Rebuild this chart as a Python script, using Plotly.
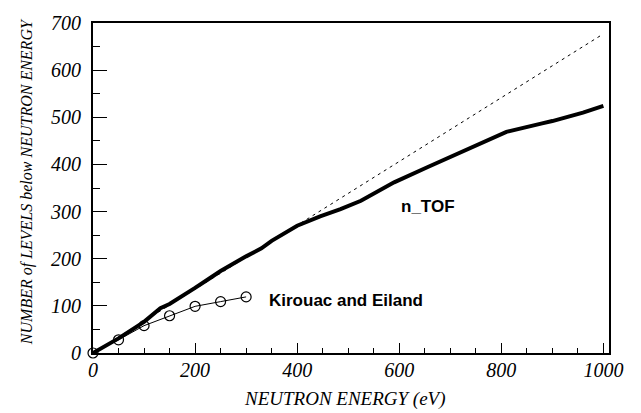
import plotly.graph_objects as go

# n_TOF cumulative number of levels vs neutron energy
ntof_energy = [0, 50, 100, 132, 150, 170, 200, 225, 250, 300, 330, 350, 400,
               445, 485, 525, 565, 590, 655, 720, 785, 810, 880, 900, 960, 1000]
ntof_levels = [0, 31, 66, 95, 104, 117, 138, 156, 174, 205, 222, 238, 270,
               290, 305, 323, 348, 362, 394, 425, 456, 469, 487, 492, 510, 524]

# Kirouac and Eiland
ke_energy = [0, 50, 100, 150, 200, 250, 300]
ke_levels = [0, 28, 58, 79, 99, 109, 119]

# straight-line reference (constant level spacing)
ref_energy = [0, 1000]
ref_levels = [0, 677]

x_range = [0, 1011]
y_range = [0, 700]

serif = "Liberation Serif"
sans = "Liberation Sans"

fig = go.Figure()

fig.add_trace(go.Scatter(
    x=ref_energy, y=ref_levels, mode="lines",
    line=dict(color="black", width=1, dash="3px,4px"),
    showlegend=False, hoverinfo="skip"))

fig.add_trace(go.Scatter(
    x=ntof_energy, y=ntof_levels, mode="lines",
    line=dict(color="black", width=4),
    showlegend=False))

fig.add_trace(go.Scatter(
    x=ke_energy, y=ke_levels, mode="lines+markers",
    line=dict(color="black", width=1),
    marker=dict(symbol="circle-open", size=10, color="black",
                line=dict(color="black", width=1.2)),
    cliponaxis=False, showlegend=False))

fig.add_annotation(x=656, y=311, text="<b>n_TOF</b>", showarrow=False,
                   xanchor="center", yanchor="middle",
                   font=dict(family=sans, size=17, color="black"))
fig.add_annotation(x=341, y=111, text="<b>Kirouac and Eiland</b>", showarrow=False,
                   xanchor="left", yanchor="middle",
                   font=dict(family=sans, size=17, color="black"))

# axis titles
fig.add_annotation(xref="paper", yref="paper", x=0.489, y=-0.138,
                   text="NEUTRON ENERGY (eV)", showarrow=False,
                   xanchor="center", yanchor="middle",
                   font=dict(family=serif, size=19, color="black", style="italic"))
fig.add_annotation(xref="paper", yref="paper", x=-0.129, y=0.519,
                   text="NUMBER of LEVELS below NEUTRON ENERGY",
                   showarrow=False, textangle=-90,
                   xanchor="center", yanchor="middle",
                   font=dict(family=serif, size=16, color="black", style="italic"))

axis_common = dict(showgrid=False, zeroline=False, showline=True, linewidth=2,
                   linecolor="black", mirror=True, ticks="inside",
                   tickcolor="black", tickwidth=1.3,
                   tickfont=dict(family=serif, size=20, color="black", style="italic"))

fig.update_xaxes(range=x_range, dtick=200, tick0=0, ticklen=10,
                 minor=dict(dtick=50, ticklen=5, ticks="inside",
                            tickcolor="black", tickwidth=1.3),
                 ticklabelstandoff=-2, **axis_common)
fig.update_yaxes(range=y_range, dtick=100, tick0=0, ticklen=14,
                 minor=dict(dtick=50, ticklen=7, ticks="inside",
                            tickcolor="black", tickwidth=1.3),
                 ticklabelstandoff=6, **axis_common)

fig.update_layout(
    width=641, height=413,
    margin=dict(l=92.7, r=32.3, t=15.7, b=59.7),
    paper_bgcolor="white", plot_bgcolor="white",
)

fig.write_html("out.html")
